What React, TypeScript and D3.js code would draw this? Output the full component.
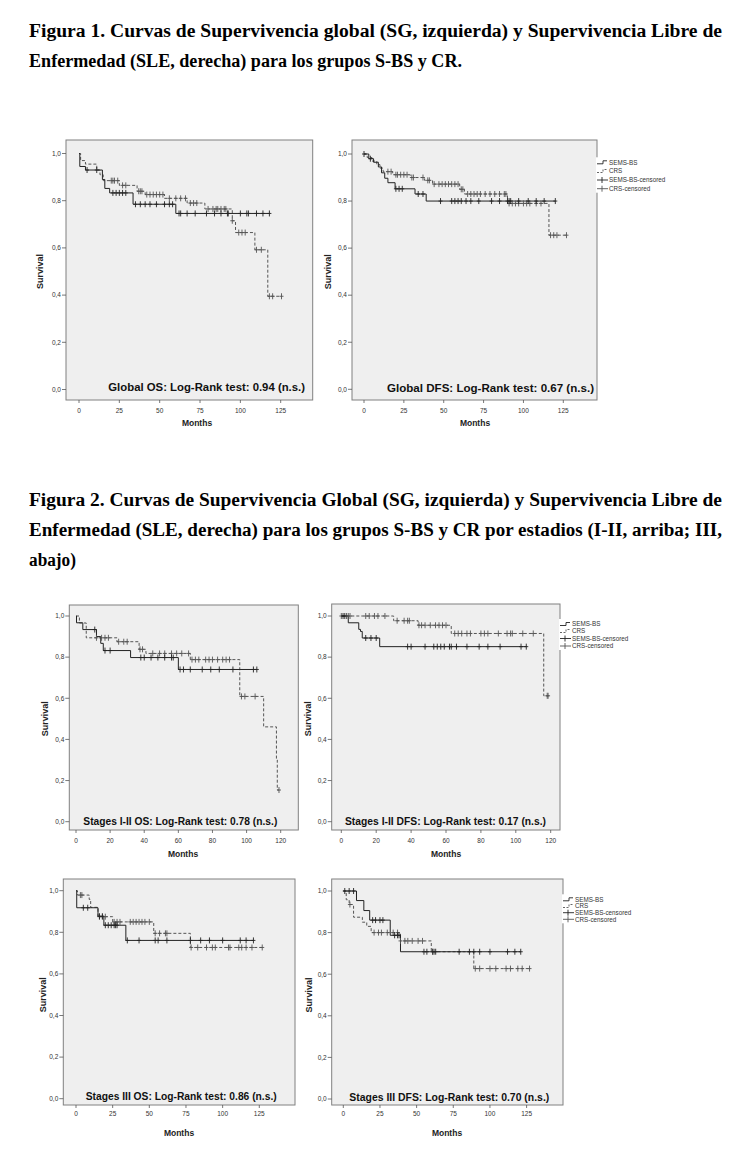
import React from 'react';
import * as d3 from 'd3';

type Ev = [number, number];

// ---------- tick labels / categories ----------
const monthTicks125 = [0, 25, 50, 75, 100, 125];
const monthTicks120 = [0, 20, 40, 60, 80, 100, 120];
const survivalTicks = [0, 0.2, 0.4, 0.6, 0.8, 1.0];
const groupNames = ['SEMS-BS', 'CRS', 'SEMS-BS-censored', 'CRS-censored'];

// ---------- Global OS ----------
const gOsSemsEvents: Ev[] = [[0.5, 0.945], [4, 0.93], [14.5, 0.89], [16, 0.852], [19, 0.833], [33.5, 0.785], [60, 0.746]];
const gOsSemsCens = [5, 11, 21, 23, 25, 27, 29, 35, 38, 41, 44, 48, 53, 56, 58, 62, 63, 67, 72, 79, 84, 88, 92, 92.5, 100, 104, 105, 110, 114, 118];
const gOsCrsEvents: Ev[] = [[1, 0.97], [4, 0.955], [11, 0.93], [13, 0.91], [15, 0.885], [25, 0.865], [36, 0.84], [41, 0.826], [53, 0.81], [67, 0.79], [78, 0.765], [95, 0.715], [97, 0.665], [109, 0.592], [117, 0.395]];
const gOsCrsCens = [20, 21, 22, 24, 27, 29, 37, 38, 39, 42, 44, 46, 48, 50, 52, 56, 60, 63, 66, 69, 71, 73, 80, 83, 85, 86, 88, 90, 91, 95, 99, 101, 103, 110, 113, 118, 120, 125.5];

// ---------- Global DFS ----------
const gDfsSemsEvents: Ev[] = [[3, 0.98], [6, 0.965], [9, 0.945], [11, 0.92], [13, 0.897], [15, 0.878], [19.5, 0.852], [32, 0.83], [39, 0.8]];
const gDfsSemsCens = [0, 4, 20, 22, 24, 34, 37, 48, 55, 57, 59, 61, 64, 67, 72, 80, 85, 90, 91, 92, 97, 103, 108, 113, 120];
const gDfsCrsEvents: Ev[] = [[2, 0.985], [5, 0.97], [8, 0.955], [10, 0.94], [12, 0.925], [18, 0.912], [29, 0.9], [38, 0.888], [43, 0.872], [60, 0.85], [63, 0.83], [90, 0.79], [116, 0.655]];
const gDfsCrsCens = [15, 17, 20, 21, 23, 25, 27, 30, 31, 37, 40, 41, 44, 47, 49, 51, 53, 55, 57, 59, 61, 62, 65, 67, 69, 71, 73, 76, 79, 82, 85, 88, 89, 91, 93, 95, 97, 100, 102, 104, 108, 111, 117, 119, 121, 127];

// ---------- Stages I-II OS ----------
const s12OsSemsEvents: Ev[] = [[0.3, 0.967], [4, 0.934], [12, 0.9], [14.5, 0.867], [16, 0.832], [32, 0.798], [60, 0.74]];
const s12OsSemsCens = [11, 17, 20, 38, 40, 44, 48, 52, 56, 57, 61, 63, 67, 74, 79, 84, 92, 104, 106];
const s12OsCrsEvents: Ev[] = [[2, 0.966], [6, 0.894], [24, 0.875], [37, 0.838], [41, 0.818], [67, 0.788], [96, 0.609], [110, 0.461], [117.5, 0.3], [118, 0.154]];
const s12OsCrsCens = [12, 15, 17, 19, 25, 28, 30, 37.5, 39, 45, 49, 52, 56, 59, 62, 66, 68, 70, 72, 76, 78, 80, 83, 86, 88, 90, 97, 99, 105, 119];

// ---------- Stages I-II DFS ----------
const s12DfsSemsEvents: Ev[] = [[4, 0.967], [10, 0.935], [11, 0.925], [12, 0.893], [22, 0.851]];
const s12DfsSemsCens = [1, 2, 14, 17, 20, 38, 40, 48, 53, 55, 57, 59, 62, 63, 66, 72, 79, 84, 91, 103, 106];
const s12DfsCrsEvents: Ev[] = [[30, 0.977], [44, 0.955], [63, 0.915], [116, 0.612]];
const s12DfsCrsCens = [0, 3, 4, 5, 14, 16, 19, 21, 25, 32, 36, 38, 39, 44.5, 46, 48, 51, 54, 56, 58, 60, 65, 67, 69, 72, 74, 80, 82, 84, 90, 95, 97, 98, 104, 110, 118, 118.5];

// ---------- Stages III OS ----------
const s3OsSemsEvents: Ev[] = [[0.5, 0.918], [15, 0.877], [19, 0.834], [34, 0.761]];
const s3OsSemsCens = [5, 8, 16, 18, 20, 22, 24, 26, 27, 28, 35, 43, 54, 56, 62, 78, 85, 91, 100, 112, 116, 121];
const s3OsCrsEvents: Ev[] = [[1, 0.979], [9, 0.958], [10, 0.92], [15, 0.875], [25, 0.85], [53, 0.795], [78, 0.727]];
const s3OsCrsCens = [3, 4, 16, 18, 20, 26, 28, 30, 37, 39, 41, 43, 45, 47, 50, 54, 57, 61, 62, 78.5, 83, 89, 93, 95, 104, 105, 111, 113, 116, 120, 127];

// ---------- Stages III DFS ----------
const s3DfsSemsEvents: Ev[] = [[9, 0.954], [14, 0.906], [18, 0.86], [32, 0.787], [39, 0.708]];
const s3DfsSemsCens = [1, 4, 7, 20, 22, 25, 27, 35, 37, 38, 55, 57, 61, 63, 79, 86, 89, 93, 100, 112, 117, 121];
const s3DfsCrsEvents: Ev[] = [[2, 0.958], [4, 0.935], [7, 0.874], [13, 0.85], [16, 0.83], [19, 0.8], [39, 0.76], [60, 0.708], [89, 0.627]];
const s3DfsCrsCens = [4.5, 21, 24, 26, 30, 34, 37, 39, 42, 44, 47, 51, 54, 61, 62, 90, 93, 100, 104, 111, 114, 119, 122, 127];

// ---------- annotations ----------
const annotations = [
  'Global OS: Log-Rank test: 0.94 (n.s.)',
  'Global DFS: Log-Rank test: 0.67 (n.s.)',
  'Stages I-II OS: Log-Rank test: 0.78 (n.s.)',
  'Stages I-II DFS: Log-Rank test: 0.17 (n.s.)',
  'Stages III OS: Log-Rank test: 0.86 (n.s.)',
  'Stages III DFS: Log-Rank test: 0.70 (n.s.)',
];

const fig1Lines = [
  'Figura 1. Curvas de Supervivencia global (SG, izquierda) y Supervivencia Libre de',
  'Enfermedad (SLE, derecha) para los grupos S-BS y CR.',
];
const fig2Lines = [
  'Figura 2. Curvas de Supervivencia Global (SG, izquierda) y Supervivencia Libre de',
  'Enfermedad (SLE, derecha) para los grupos S-BS y CR por estadios (I-II, arriba; III,',
  'abajo)',
];

interface PanelCfg {
  frame: [number, number, number, number]; // left, right, top, bottom
  xRange: [number, number]; // pixel for first and last tick
  yRange: [number, number]; // pixel for 0 and 1
  ticks: number[];
  sems: Ev[]; semsC: number[]; crs: Ev[]; crsC: number[];
  note: string; noteX: [number, number]; noteY: number;
  survX: number; monthsX: number; tickY: number; monthsY: number;
  legend?: { x: number; ys: number[] };
}

const panels: PanelCfg[] = [
  {
    frame: [66, 312.7, 140, 400], xRange: [79, 280.7], yRange: [389.5, 153.5], ticks: monthTicks125,
    sems: gOsSemsEvents, semsC: gOsSemsCens, crs: gOsCrsEvents, crsC: gOsCrsCens,
    note: annotations[0], noteX: [108.3, 305], noteY: 391, survX: 40, monthsX: 197, tickY: 411, monthsY: 423,
  },
  {
    frame: [352, 597, 140, 400], xRange: [364, 563.3], yRange: [389.3, 154], ticks: monthTicks125,
    sems: gDfsSemsEvents, semsC: gDfsSemsCens, crs: gDfsCrsEvents, crsC: gDfsCrsCens,
    note: annotations[1], noteX: [387, 594], noteY: 392, survX: 328.3, monthsX: 475, tickY: 411, monthsY: 423,
    legend: { x: 597, ys: [162.3, 171, 180, 188.7] },
  },
  {
    frame: [69.3, 298.3, 605, 830], xRange: [76, 280.7], yRange: [821.7, 616], ticks: monthTicks120,
    sems: s12OsSemsEvents, semsC: s12OsSemsCens, crs: s12OsCrsEvents, crsC: s12OsCrsCens,
    note: annotations[2], noteX: [83.3, 277.3], noteY: 824.5, survX: 45, monthsX: 183, tickY: 841, monthsY: 854,
  },
  {
    frame: [331.7, 560, 604, 830], xRange: [341.3, 550.7], yRange: [821.7, 616], ticks: monthTicks120,
    sems: s12DfsSemsEvents, semsC: s12DfsSemsCens, crs: s12DfsCrsEvents, crsC: s12DfsCrsCens,
    note: annotations[3], noteX: [345, 546], noteY: 824.5, survX: 308.3, monthsX: 446, tickY: 841, monthsY: 854,
    legend: { x: 560, ys: [624, 631, 638.5, 646] },
  },
  {
    frame: [63.3, 295, 879, 1105], xRange: [76, 259.3], yRange: [1098.7, 890.7], ticks: monthTicks125,
    sems: s3OsSemsEvents, semsC: s3OsSemsCens, crs: s3OsCrsEvents, crsC: s3OsCrsCens,
    note: annotations[4], noteX: [85.7, 276.7], noteY: 1100, survX: 43, monthsX: 179, tickY: 1114, monthsY: 1133,
  },
  {
    frame: [331.7, 563, 879, 1105], xRange: [343.3, 526.6], yRange: [1099, 891], ticks: monthTicks125,
    sems: s3DfsSemsEvents, semsC: s3DfsSemsCens, crs: s3DfsCrsEvents, crsC: s3DfsCrsCens,
    note: annotations[5], noteX: [349.3, 549.3], noteY: 1101, survX: 309.3, monthsX: 447, tickY: 1114, monthsY: 1133,
    legend: { x: 563, ys: [899.3, 906, 912.7, 919.3] },
  },
];

const survAt = (events: Ev[], t: number) => {
  let s = 1;
  for (const [te, v] of events) if (te <= t) s = v;
  return s;
};

const kmPoints = (events: Ev[], cens: number[]): [number, number][] => {
  const end = Math.max(...cens, ...events.map((e) => e[0]));
  const pts: [number, number][] = [[0, 1]];
  let s = 1;
  for (const [t, v] of events) {
    pts.push([t, s]);
    pts.push([t, v]);
    s = v;
  }
  pts.push([end, s]);
  return pts;
};

const fmt = (v: number) => v.toFixed(1).replace('.', ',');
const SANS = 'Arial, "Liberation Sans", sans-serif';

function Panel({ p }: { p: PanelCfg }) {
  const [l, r, t, b] = p.frame;
  const tMax = p.ticks[p.ticks.length - 1];
  const x = d3.scaleLinear().domain([0, tMax]).range(p.xRange);
  const y = d3.scaleLinear().domain([0, 1]).range(p.yRange);
  const line = d3.line<[number, number]>().x((d) => x(d[0])).y((d) => y(d[1]));
  const semsPath = line(kmPoints(p.sems, p.semsC)) || '';
  const crsPath = line(kmPoints(p.crs, p.crsC)) || '';
  const mark = (tt: number, ev: Ev[], color: string, key: string) => {
    const cx = x(tt);
    const cy = y(survAt(ev, tt));
    return (
      <g key={key} stroke={color} strokeWidth={0.9}>
        <line x1={cx} x2={cx} y1={cy - 3} y2={cy + 3} />
        <line x1={cx - 2} x2={cx + 2} y1={cy} y2={cy} />
      </g>
    );
  };
  const yMid = (p.yRange[0] + p.yRange[1]) / 2;
  return (
    <g>
      <rect x={l} y={t} width={r - l} height={b - t} fill="#efefef" stroke="#808080" strokeWidth={1} />
      {survivalTicks.map((v) => (
        <g key={'y' + v}>
          <line x1={l - 4} x2={l} y1={y(v)} y2={y(v)} stroke="#555" strokeWidth={0.8} />
          <text x={l - 5} y={y(v) + 2.3} fontSize={6.5} fontFamily={SANS} fill="#333" textAnchor="end">{fmt(v)}</text>
        </g>
      ))}
      {p.ticks.map((v) => (
        <g key={'x' + v}>
          <line x1={x(v)} x2={x(v)} y1={b} y2={b + 3} stroke="#555" strokeWidth={0.8} />
          <text x={x(v)} y={p.tickY + 2.3} fontSize={6.5} fontFamily={SANS} fill="#333" textAnchor="middle">{v}</text>
        </g>
      ))}
      <path d={crsPath} fill="none" stroke="#555" strokeWidth={1} strokeDasharray="3,2" />
      <path d={semsPath} fill="none" stroke="#222" strokeWidth={1} />
      {p.crsC.map((c, i) => mark(c, p.crs, '#555', 'c' + i))}
      {p.semsC.map((c, i) => mark(c, p.sems, '#222', 's' + i))}
      <text x={p.noteX[0]} y={p.noteY} fontSize={10} fontWeight="bold" fontFamily={SANS} fill="#111"
        textLength={p.noteX[1] - p.noteX[0]} lengthAdjust="spacingAndGlyphs">{p.note}</text>
      <text transform={`translate(${p.survX},${yMid}) rotate(-90)`} fontSize={9} fontWeight="bold" fontFamily={SANS}
        fill="#222" textAnchor="middle" dy={3}>Survival</text>
      <text x={p.monthsX} y={p.monthsY + 3} fontSize={8.5} fontWeight="bold" fontFamily={SANS} fill="#222" textAnchor="middle">Months</text>
      {p.legend && (
        <g>
          <rect x={p.legend.x - 1} y={p.legend.ys[0] - 5} width={70} height={p.legend.ys[3] - p.legend.ys[0] + 9} fill="#fff" />
          {groupNames.map((g, i) => {
            const ly = p.legend!.ys[i];
            const lx = p.legend!.x;
            let sym;
            if (i === 0) sym = <path d={`M${lx},${ly + 1.5}H${lx + 6}V${ly - 1.5}H${lx + 10}`} fill="none" stroke="#222" strokeWidth={0.9} />;
            else if (i === 1) sym = <path d={`M${lx},${ly + 1.5}H${lx + 6}V${ly - 1.5}H${lx + 10}`} fill="none" stroke="#555" strokeWidth={0.9} strokeDasharray="2,1.5" />;
            else sym = (
              <g stroke={i === 2 ? '#222' : '#555'} strokeWidth={0.9}>
                <line x1={lx} x2={lx + 11} y1={ly} y2={ly} />
                <line x1={lx + 5} x2={lx + 5} y1={ly - 3} y2={ly + 3} />
              </g>
            );
            return (
              <g key={g}>
                {sym}
                <text x={lx + 12} y={ly + 2.2} fontSize={6.3} fontFamily={SANS} fill="#333">{g}</text>
              </g>
            );
          })}
        </g>
      )}
    </g>
  );
}

export default function App() {
  const SERIF = '"Liberation Serif", "DejaVu Serif", serif';
  const tp = { fontSize: 18, fontWeight: 'bold' as const, fontFamily: SERIF, fill: '#000', lengthAdjust: 'spacingAndGlyphs' };
  return (
    <svg width={750} height={1152} style={{ position: 'absolute', left: 0, top: 0, background: '#fff' }}>
      <rect x={0} y={0} width={750} height={1152} fill="#fff" />
      <text x={29} y={37} {...tp} textLength={693}>{fig1Lines[0]}</text>
      <text x={29} y={67} {...tp} textLength={433}>{fig1Lines[1]}</text>
      <text x={29} y={506} {...tp} textLength={693}>{fig2Lines[0]}</text>
      <text x={29} y={536} {...tp} textLength={693}>{fig2Lines[1]}</text>
      <text x={29} y={566} {...tp} textLength={47}>{fig2Lines[2]}</text>
      {panels.map((p, i) => <Panel key={i} p={p} />)}
    </svg>
  );
}
